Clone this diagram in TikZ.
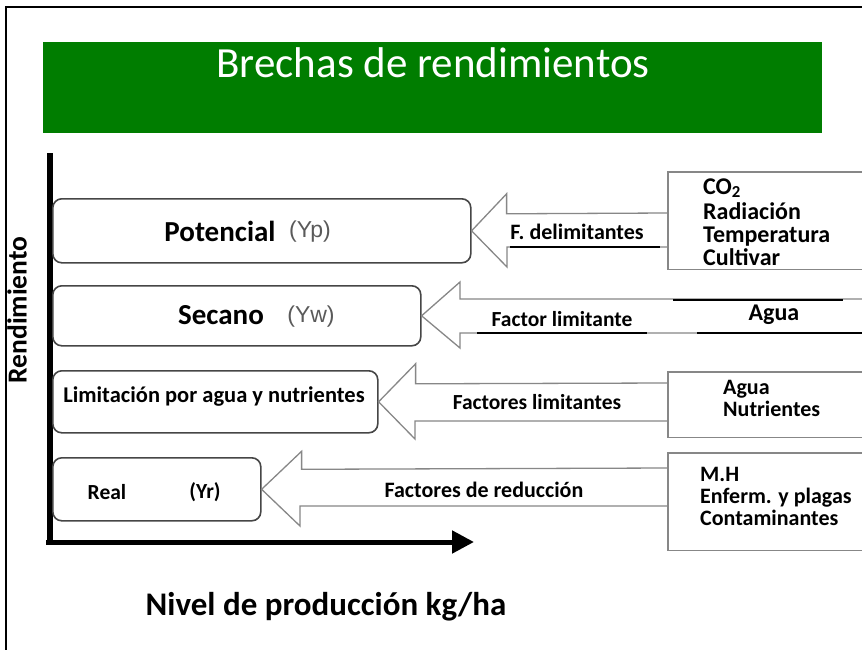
\documentclass[tikz,border=0pt]{standalone}
\usepackage{fontspec}
\setmainfont{Carlito}
\newfontfamily\arialfont{Liberation Sans}
\usetikzlibrary{arrows.meta}
\definecolor{titlegreen}{RGB}{0,125,0}
\definecolor{boxgray}{RGB}{70,70,70}
\definecolor{arrowgray}{RGB}{135,135,135}
\definecolor{labelgray}{RGB}{90,90,90}
\newcommand{\fs}[1]{\fontsize{#1}{#1}\selectfont}
\tikzset{
  ybox/.style={draw=boxgray, line width=1.6pt, rounded corners=9pt, anchor=north west, inner sep=0pt},
  hollow/.style={draw=arrowgray, line width=1.3pt, line join=miter},
  sidebox/.style={draw=arrowgray, line width=1.8pt},
  lbl/.style={font=\fs{22}\bfseries, inner sep=0pt},
  ylbl/.style={font=\fs{23}\arialfont, text=labelgray, inner sep=0pt},
  lst/.style={font=\fs{22}\bfseries, align=left, anchor=north west, inner sep=0pt},
  item/.style={font=\fs{24}\bfseries, anchor=base west, inner sep=0pt}
}
\begin{document}
\begin{tikzpicture}[x=1pt, y=-1pt]
\useasboundingbox (0,0) rectangle (862,650);
\fill[white] (0,0) rectangle (862,650);

% Frame
\draw[line width=1.5pt] (6,650) -- (6,7) -- (862,7);

% Title
\node[fill=titlegreen, minimum width=779pt, minimum height=91pt, anchor=north west, inner sep=0pt] (title) at (43,42) {};
\node[font=\fs{43}, text=white, inner sep=0pt] (titletext) at (433,63) {Brechas de rendimientos};

% Axes
\coordinate (origin) at (50,542);
\coordinate (ytop) at (50,153);
\coordinate (xend) at (474,542);
\draw[line width=6pt] (origin) -- (ytop);
\draw[line width=5pt, -{Triangle[length=22pt, width=22pt]}] ([xshift=-4pt]origin) -- (xend);
\node[font=\fs{27.5}\bfseries, rotate=90, inner sep=0pt] (ylab) at (17,310) {Rendimiento};
\node[font=\fs{33}\bfseries, inner sep=0pt] (xlab) at (326,607) {Nivel de producción kg/ha};

% Yield boxes
\node[ybox, minimum width=418pt, minimum height=64pt] (pot) at (52,198) {};
\node[ybox, minimum width=368pt, minimum height=60pt] (sec) at (52,285) {};
\node[ybox, minimum width=325pt, minimum height=62pt] (lim) at (52,370) {};
\node[ybox, minimum width=208pt, minimum height=63pt] (real) at (52,457) {};

\node[lbl, font=\fs{29}\bfseries] (pottext) at (220,231) {Potencial};
\node[ylbl] (yp) at (310,232) {(Yp)};
\node[lbl, font=\fs{29}\bfseries] (sectext) at (221,315) {Secano};
\node[ylbl] (yw) at (311,317) {(Yw)};
\node[lbl, font=\fs{22.5}\bfseries] (limtext) at (214,397) {Limitación por agua y nutrientes};
\node[lbl, font=\fs{21.5}\bfseries] (realtext) at (107,492) {Real};
\node[lbl, font=\fs{21.5}\bfseries] (yr) at (205,492) {(Yr)};

% Factor boxes
\node[minimum width=194pt, minimum height=97pt, anchor=north west, inner sep=0pt] (c1) at (668,172) {};
\draw[sidebox] (c1.north east) -- (c1.north west) -- (c1.south west) -- (c1.south east);
\node[item] (co) at (703,194) {CO\textsubscript{2}};
\node[item] (rad) at (703,219) {Radiación};
\node[item] (temp) at (703,242) {Temperatura};
\node[item] (cult) at (703,265) {Cultivar};

\node[minimum width=194pt, minimum height=65pt, anchor=north west, inner sep=0pt] (c3) at (668,372) {};
\draw[sidebox] (c3.north east) -- (c3.north west) -- (c3.south west) -- (c3.south east);
\node[lst] (c3text) at (723,380) {\baselineskip=26pt Agua\\Nutrientes};

\node[minimum width=194pt, minimum height=97pt, anchor=north west, inner sep=0pt] (c4) at (668,453) {};
\draw[sidebox] (c4.north east) -- (c4.north west) -- (c4.south west) -- (c4.south east);
\node[lst] (c4text) at (700,467) {\baselineskip=25.5pt M.H\\Enferm. y plagas\\Contaminantes};

% Block arrows
\draw[hollow] (pot.east) -- ++(35,-37) -- ++(0,20) -- (c1.west |- 0,213)
  -- (c1.west |- 0,247) -- (507,247) -- ++(0,20) -- cycle;
\draw[hollow] (862,299) -- (460,299) -- ++(0,-17) -- (sec.east) -- (460,348) -- ++(0,-15) -- (862,333);
\draw[hollow] (lim.east) -- ++(37,-38) -- ++(0,20) -- (c3.west |- 0,383)
  -- (c3.west |- 0,421) -- (415,421) -- ++(0,18) -- cycle;
\draw[hollow] (real.east) -- ++(40,-38) -- ++(0,18) -- (c4.west |- 0,468)
  -- (c4.west |- 0,506) -- (300,506) -- ++(0,20) -- cycle;

% Row 2 factor lines
\draw[line width=1.6pt] (673,300) -- (843,300);
\draw[line width=1.6pt] (697,333) -- (862,333);
\draw[line width=1.6pt] (477,333) -- (647,333);
\draw[line width=1.6pt] (510,247) -- (660,247);

% Arrow labels
\node[lbl] (f1) at (577,232) {F. delimitantes};
\node[lbl, font=\fs{21.5}\bfseries] (f2) at (562,319) {Factor limitante};
\node[lbl, font=\fs{24}\bfseries] (agua) at (774,315) {Agua};
\node[lbl, font=\fs{21.5}\bfseries, fill=white, inner sep=2pt] (f3) at (537,402) {Factores limitantes};
\node[lbl] (f4) at (484,490) {Factores de reducción};

\end{tikzpicture}
\end{document}
